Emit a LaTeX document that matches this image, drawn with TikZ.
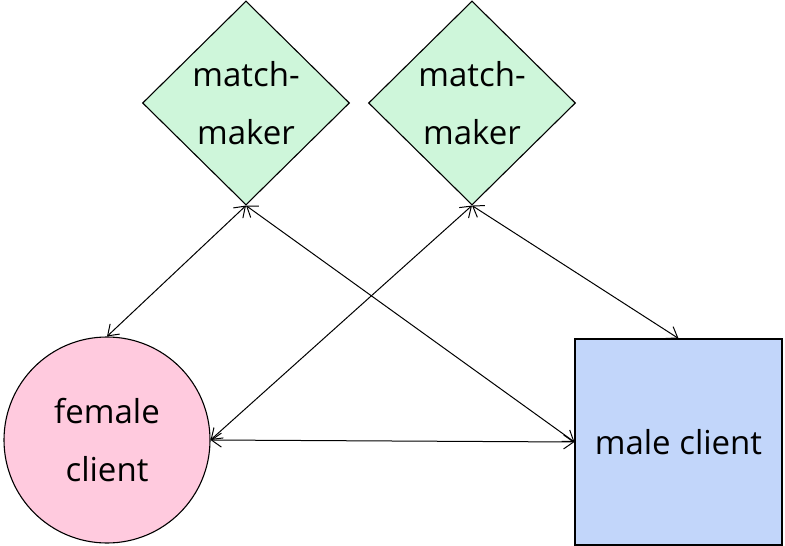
\documentclass[tikz,border=0pt]{standalone}
\usepackage{fontspec}
\setmainfont{Open Sans}
\usetikzlibrary{shapes.geometric,arrows.meta}
\definecolor{mintfill}{RGB}{206,246,218}
\definecolor{pinkfill}{RGB}{255,202,222}
\definecolor{bluefill}{RGB}{194,214,250}
\tikzset{
  x=1pt, y=1pt,
  labeltext/.style={font=\fontsize{33}{58}\selectfont, align=center, text=black},
  matchbox/.style={diamond, draw=black, line width=1.1pt, fill=mintfill, minimum width=207pt, minimum height=204pt, inner sep=0pt, labeltext},
  femalebox/.style={circle, draw=black, line width=1.1pt, fill=pinkfill, minimum size=206pt, inner sep=0pt, labeltext},
  malebox/.style={rectangle, draw=black, line width=1.1pt, fill=bluefill, minimum width=207pt, minimum height=206pt, inner sep=0pt, labeltext},
  link/.style={draw=black, line width=1pt, {Straight Barb[length=10pt,width=14pt]}-{Straight Barb[length=10pt,width=14pt]}}
}
\begin{document}
\begin{tikzpicture}
\useasboundingbox (0,0) rectangle (785,-546);
\node[matchbox] (lm) at (246,-103) {match-\\maker};
\node[matchbox] (rm) at (472,-103) {match-\\maker};
\node[femalebox] (fc) at (107,-440) {female\\client};
\node[malebox] (mc) at (678.5,-442) {male client};
\draw[link] (lm.south) -- (fc.north);
\draw[link] (lm.south) -- (mc.west);
\draw[link] (rm.south) -- (fc.east);
\draw[link] (rm.south) -- (mc.north);
\draw[link] (fc.east) -- (mc.west);
\end{tikzpicture}
\end{document}
